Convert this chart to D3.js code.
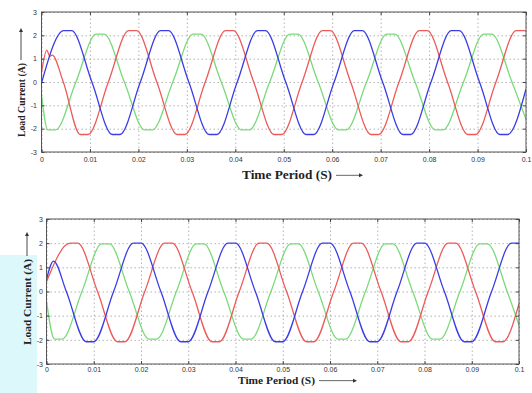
<!DOCTYPE html>
<html>
<head>
<meta charset="utf-8">
<script src="https://cdn.jsdelivr.net/npm/d3@7"></script>
<style>
  html, body { margin: 0; padding: 0; background: #fff; }
  svg { display: block; }
  .tick text { font-family: "Liberation Sans", Arial, sans-serif; fill: #333; }
  .lbl { font-family: "Liberation Serif", "Times New Roman", serif; font-weight: bold; fill: #222; }
</style>
</head>
<body>
<div id="chart"></div>
<script>
// time axis (seconds) and current axis (amps)
const timeTicks = [0, 0.01, 0.02, 0.03, 0.04, 0.05, 0.06, 0.07, 0.08, 0.09, 0.1];
const timeTickLabels = ['0', '0.01', '0.02', '0.03', '0.04', '0.05', '0.06', '0.07', '0.08', '0.09', '0.1'];
const currentTicks = [-3, -2, -1, 0, 1, 2, 3];

// upper plot: [time, current]
const topBlue = [[0,-0.05],[0.0046,2.2],[0.0062,2.2],[0.0104,0],[0.0146,-2.25],[0.0162,-2.25],[0.0204,0],[0.0246,2.2],[0.0262,2.2],[0.0304,0],[0.0346,-2.25],[0.0362,-2.25],[0.0404,0],[0.0446,2.2],[0.0462,2.2],[0.0504,0],[0.0546,-2.25],[0.0562,-2.25],[0.0604,0],[0.0646,2.2],[0.0662,2.2],[0.0704,0],[0.0746,-2.25],[0.0762,-2.25],[0.0804,0],[0.0846,2.2],[0.0862,2.2],[0.0904,0],[0.0946,-2.25],[0.0962,-2.25],[0.1,-0.3]];
const topGreen = [[0,-0.55],[0.0013,-2.05],[0.0029,-2.05],[0.0071,0],[0.0113,2.05],[0.0129,2.05],[0.0171,0],[0.0213,-2.05],[0.0229,-2.05],[0.0271,0],[0.0313,2.05],[0.0329,2.05],[0.0371,0],[0.0413,-2.05],[0.0429,-2.05],[0.0471,0],[0.0513,2.05],[0.0529,2.05],[0.0571,0],[0.0613,-2.05],[0.0629,-2.05],[0.0671,0],[0.0713,2.05],[0.0729,2.05],[0.0771,0],[0.0813,-2.05],[0.0829,-2.05],[0.0871,0],[0.0913,2.05],[0.0929,2.05],[0.0971,0],[0.1,-1.6]];
const topRed = [[0,0.4],[0.0011,1.37],[0.0017,1.1],[0.0022,1.15],[0.0045,0],[0.0080,-2.25],[0.0096,-2.25],[0.0138,0],[0.0180,2.2],[0.0196,2.2],[0.0238,0],[0.0280,-2.25],[0.0296,-2.25],[0.0338,0],[0.0380,2.2],[0.0396,2.2],[0.0438,0],[0.0480,-2.25],[0.0496,-2.25],[0.0538,0],[0.0580,2.2],[0.0596,2.2],[0.0638,0],[0.0680,-2.25],[0.0696,-2.25],[0.0738,0],[0.0780,2.2],[0.0796,2.2],[0.0838,0],[0.0880,-2.25],[0.0896,-2.25],[0.0938,0],[0.0980,2.2],[0.0996,2.2],[0.1,2.18]];

// lower plot
const botRed = [[0,0.4],[0.0050,2.0],[0.0066,2.0],[0.0108,0],[0.0150,-2.08],[0.0166,-2.08],[0.0208,0],[0.0250,2.0],[0.0266,2.0],[0.0308,0],[0.0350,-2.08],[0.0366,-2.08],[0.0408,0],[0.0450,2.0],[0.0466,2.0],[0.0508,0],[0.0550,-2.08],[0.0566,-2.08],[0.0608,0],[0.0650,2.0],[0.0666,2.0],[0.0708,0],[0.0750,-2.08],[0.0766,-2.08],[0.0808,0],[0.0850,2.0],[0.0866,2.0],[0.0908,0],[0.0950,-2.08],[0.0966,-2.08],[0.1,-0.5]];
const botBlue = [[0,0.5],[0.0015,1.26],[0.0042,0],[0.0084,-2.08],[0.0100,-2.08],[0.0142,0],[0.0184,2.0],[0.0200,2.0],[0.0242,0],[0.0284,-2.08],[0.0300,-2.08],[0.0342,0],[0.0384,2.0],[0.0400,2.0],[0.0442,0],[0.0484,-2.08],[0.0500,-2.08],[0.0542,0],[0.0584,2.0],[0.0600,2.0],[0.0642,0],[0.0684,-2.08],[0.0700,-2.08],[0.0742,0],[0.0784,2.0],[0.0800,2.0],[0.0842,0],[0.0884,-2.08],[0.0900,-2.08],[0.0942,0],[0.0984,2.0],[0.1,2.0]];
const botGreen = [[0,-0.4],[0.0017,-1.97],[0.0033,-1.97],[0.0075,0],[0.0117,1.97],[0.0133,1.97],[0.0175,0],[0.0217,-1.97],[0.0233,-1.97],[0.0275,0],[0.0317,1.97],[0.0333,1.97],[0.0375,0],[0.0417,-1.97],[0.0433,-1.97],[0.0475,0],[0.0517,1.97],[0.0533,1.97],[0.0575,0],[0.0617,-1.97],[0.0633,-1.97],[0.0675,0],[0.0717,1.97],[0.0733,1.97],[0.0775,0],[0.0817,-1.97],[0.0833,-1.97],[0.0875,0],[0.0917,1.97],[0.0933,1.97],[0.0975,0],[0.1,-1.4]];

const COLORS = { blue: '#3c3ce6', red: '#ec5a5a', green: '#7ada7a' };

const W = 532, H = 393;
const svg = d3.select('#chart').append('svg').attr('width', W).attr('height', H);

// pale cyan block at lower left of the scan
svg.append('rect').attr('x', 0).attr('y', 255).attr('width', 37).attr('height', H - 255)
  .attr('fill', '#ddf8fb');

const panels = [
  {
    id: 'top', left: 41.5, right: 526, top: 12, bottom: 152, xPad: 5, yPad: 4.5,
    series: [[topGreen, COLORS.green], [topRed, COLORS.red], [topBlue, COLORS.blue]],
    yLabel: { x: 21, y0: 137, y1: 63, arrowEnd: 28, size: 10 },
    xLabel: { x0: 242, x1: 332, y: 179, arrowEnd: 363, size: 11.5 }
  },
  {
    id: 'bot', left: 46.5, right: 519, top: 219, bottom: 364, xPad: 3, yPad: 3.5,
    series: [[botGreen, COLORS.green], [botRed, COLORS.red], [botBlue, COLORS.blue]],
    yLabel: { x: 27, y0: 345, y1: 259, arrowEnd: 232, size: 10 },
    xLabel: { x0: 238, x1: 315, y: 384, arrowEnd: 357, size: 10.5 }
  }
];

function drawPanel(p) {
  const x = d3.scaleLinear().domain([0, 0.1]).range([p.left, p.right]);
  const y = d3.scaleLinear().domain([-3, 3]).range([p.bottom, p.top]);
  const h = p.bottom - p.top, w = p.right - p.left;
  const g = svg.append('g');

  // dotted grid
  const gridStyle = s => {
    s.select('.domain').remove();
    s.selectAll('line').attr('stroke', '#a0a0a0').attr('stroke-dasharray', '1.5,2.5').attr('stroke-width', 0.8);
  };
  g.append('g').attr('transform', `translate(0,${p.bottom})`)
    .call(d3.axisBottom(x).tickValues(timeTicks).tickSize(-h).tickFormat(''))
    .call(gridStyle);
  g.append('g').attr('transform', `translate(${p.left},0)`)
    .call(d3.axisLeft(y).tickValues(currentTicks).tickSize(-w).tickFormat(''))
    .call(gridStyle);

  svg.append('clipPath').attr('id', 'clip-' + p.id)
    .append('rect').attr('x', p.left).attr('y', p.top).attr('width', w).attr('height', h);

  const line = d3.line().x(d => x(d[0])).y(d => y(d[1])).curve(d3.curveMonotoneX);
  g.append('g').attr('clip-path', `url(#clip-${p.id})`)
    .selectAll('path').data(p.series).join('path')
    .attr('d', d => line(d[0]))
    .attr('fill', 'none')
    .attr('stroke', d => d[1])
    .attr('stroke-width', 1.3)
    .attr('stroke-linejoin', 'round');

  // frame
  g.append('rect').attr('x', p.left).attr('y', p.top).attr('width', w).attr('height', h)
    .attr('fill', 'none').attr('stroke', '#555').attr('stroke-width', 1);

  // inward ticks with labels
  const styleTicks = s => {
    s.select('.domain').remove();
    s.selectAll('line').attr('stroke', '#444');
    s.selectAll('text').attr('font-size', 7);
  };
  g.append('g').attr('transform', `translate(0,${p.bottom})`)
    .call(d3.axisBottom(x).tickValues(timeTicks).tickFormat((d, i) => timeTickLabels[i])
      .tickSizeInner(-3).tickSizeOuter(0).tickPadding(p.xPad))
    .call(styleTicks);
  g.append('g').attr('transform', `translate(0,${p.top})`)
    .call(d3.axisTop(x).tickValues(timeTicks).tickFormat('').tickSizeInner(-3).tickSizeOuter(0))
    .call(styleTicks);
  g.append('g').attr('transform', `translate(${p.left},0)`)
    .call(d3.axisLeft(y).tickValues(currentTicks).tickFormat(d => String(d))
      .tickSizeInner(-3).tickSizeOuter(0).tickPadding(p.yPad))
    .call(styleTicks);
  g.append('g').attr('transform', `translate(${p.right},0)`)
    .call(d3.axisRight(y).tickValues(currentTicks).tickFormat('').tickSizeInner(-3).tickSizeOuter(0))
    .call(styleTicks);

  // y axis title with arrow
  const yl = p.yLabel;
  g.append('text').attr('class', 'lbl')
    .attr('transform', `translate(${yl.x + yl.size * 0.35},${yl.y0}) rotate(-90)`)
    .attr('font-size', yl.size)
    .attr('textLength', yl.y0 - yl.y1).attr('lengthAdjust', 'spacingAndGlyphs')
    .text('Load Current (A)');
  g.append('line').attr('x1', yl.x).attr('x2', yl.x).attr('y1', yl.y1 - 3).attr('y2', yl.arrowEnd + 3)
    .attr('stroke', '#333').attr('stroke-width', 0.9);
  g.append('path').attr('d', `M${yl.x - 2},${yl.arrowEnd + 4}L${yl.x},${yl.arrowEnd}L${yl.x + 2},${yl.arrowEnd + 4}Z`)
    .attr('fill', '#333');

  // x axis title with arrow
  const xl = p.xLabel;
  g.append('text').attr('class', 'lbl')
    .attr('x', xl.x0).attr('y', xl.y)
    .attr('font-size', xl.size)
    .attr('textLength', xl.x1 - xl.x0).attr('lengthAdjust', 'spacingAndGlyphs')
    .text('Time Period (S)');
  const ay = xl.y - xl.size * 0.32;
  g.append('line').attr('x1', xl.x1 + 4).attr('x2', xl.arrowEnd - 3).attr('y1', ay).attr('y2', ay)
    .attr('stroke', '#555').attr('stroke-width', 0.9);
  g.append('path').attr('d', `M${xl.arrowEnd - 4},${ay - 2}L${xl.arrowEnd},${ay}L${xl.arrowEnd - 4},${ay + 2}Z`)
    .attr('fill', '#333');
}

panels.forEach(drawPanel);
</script>
</body>
</html>
